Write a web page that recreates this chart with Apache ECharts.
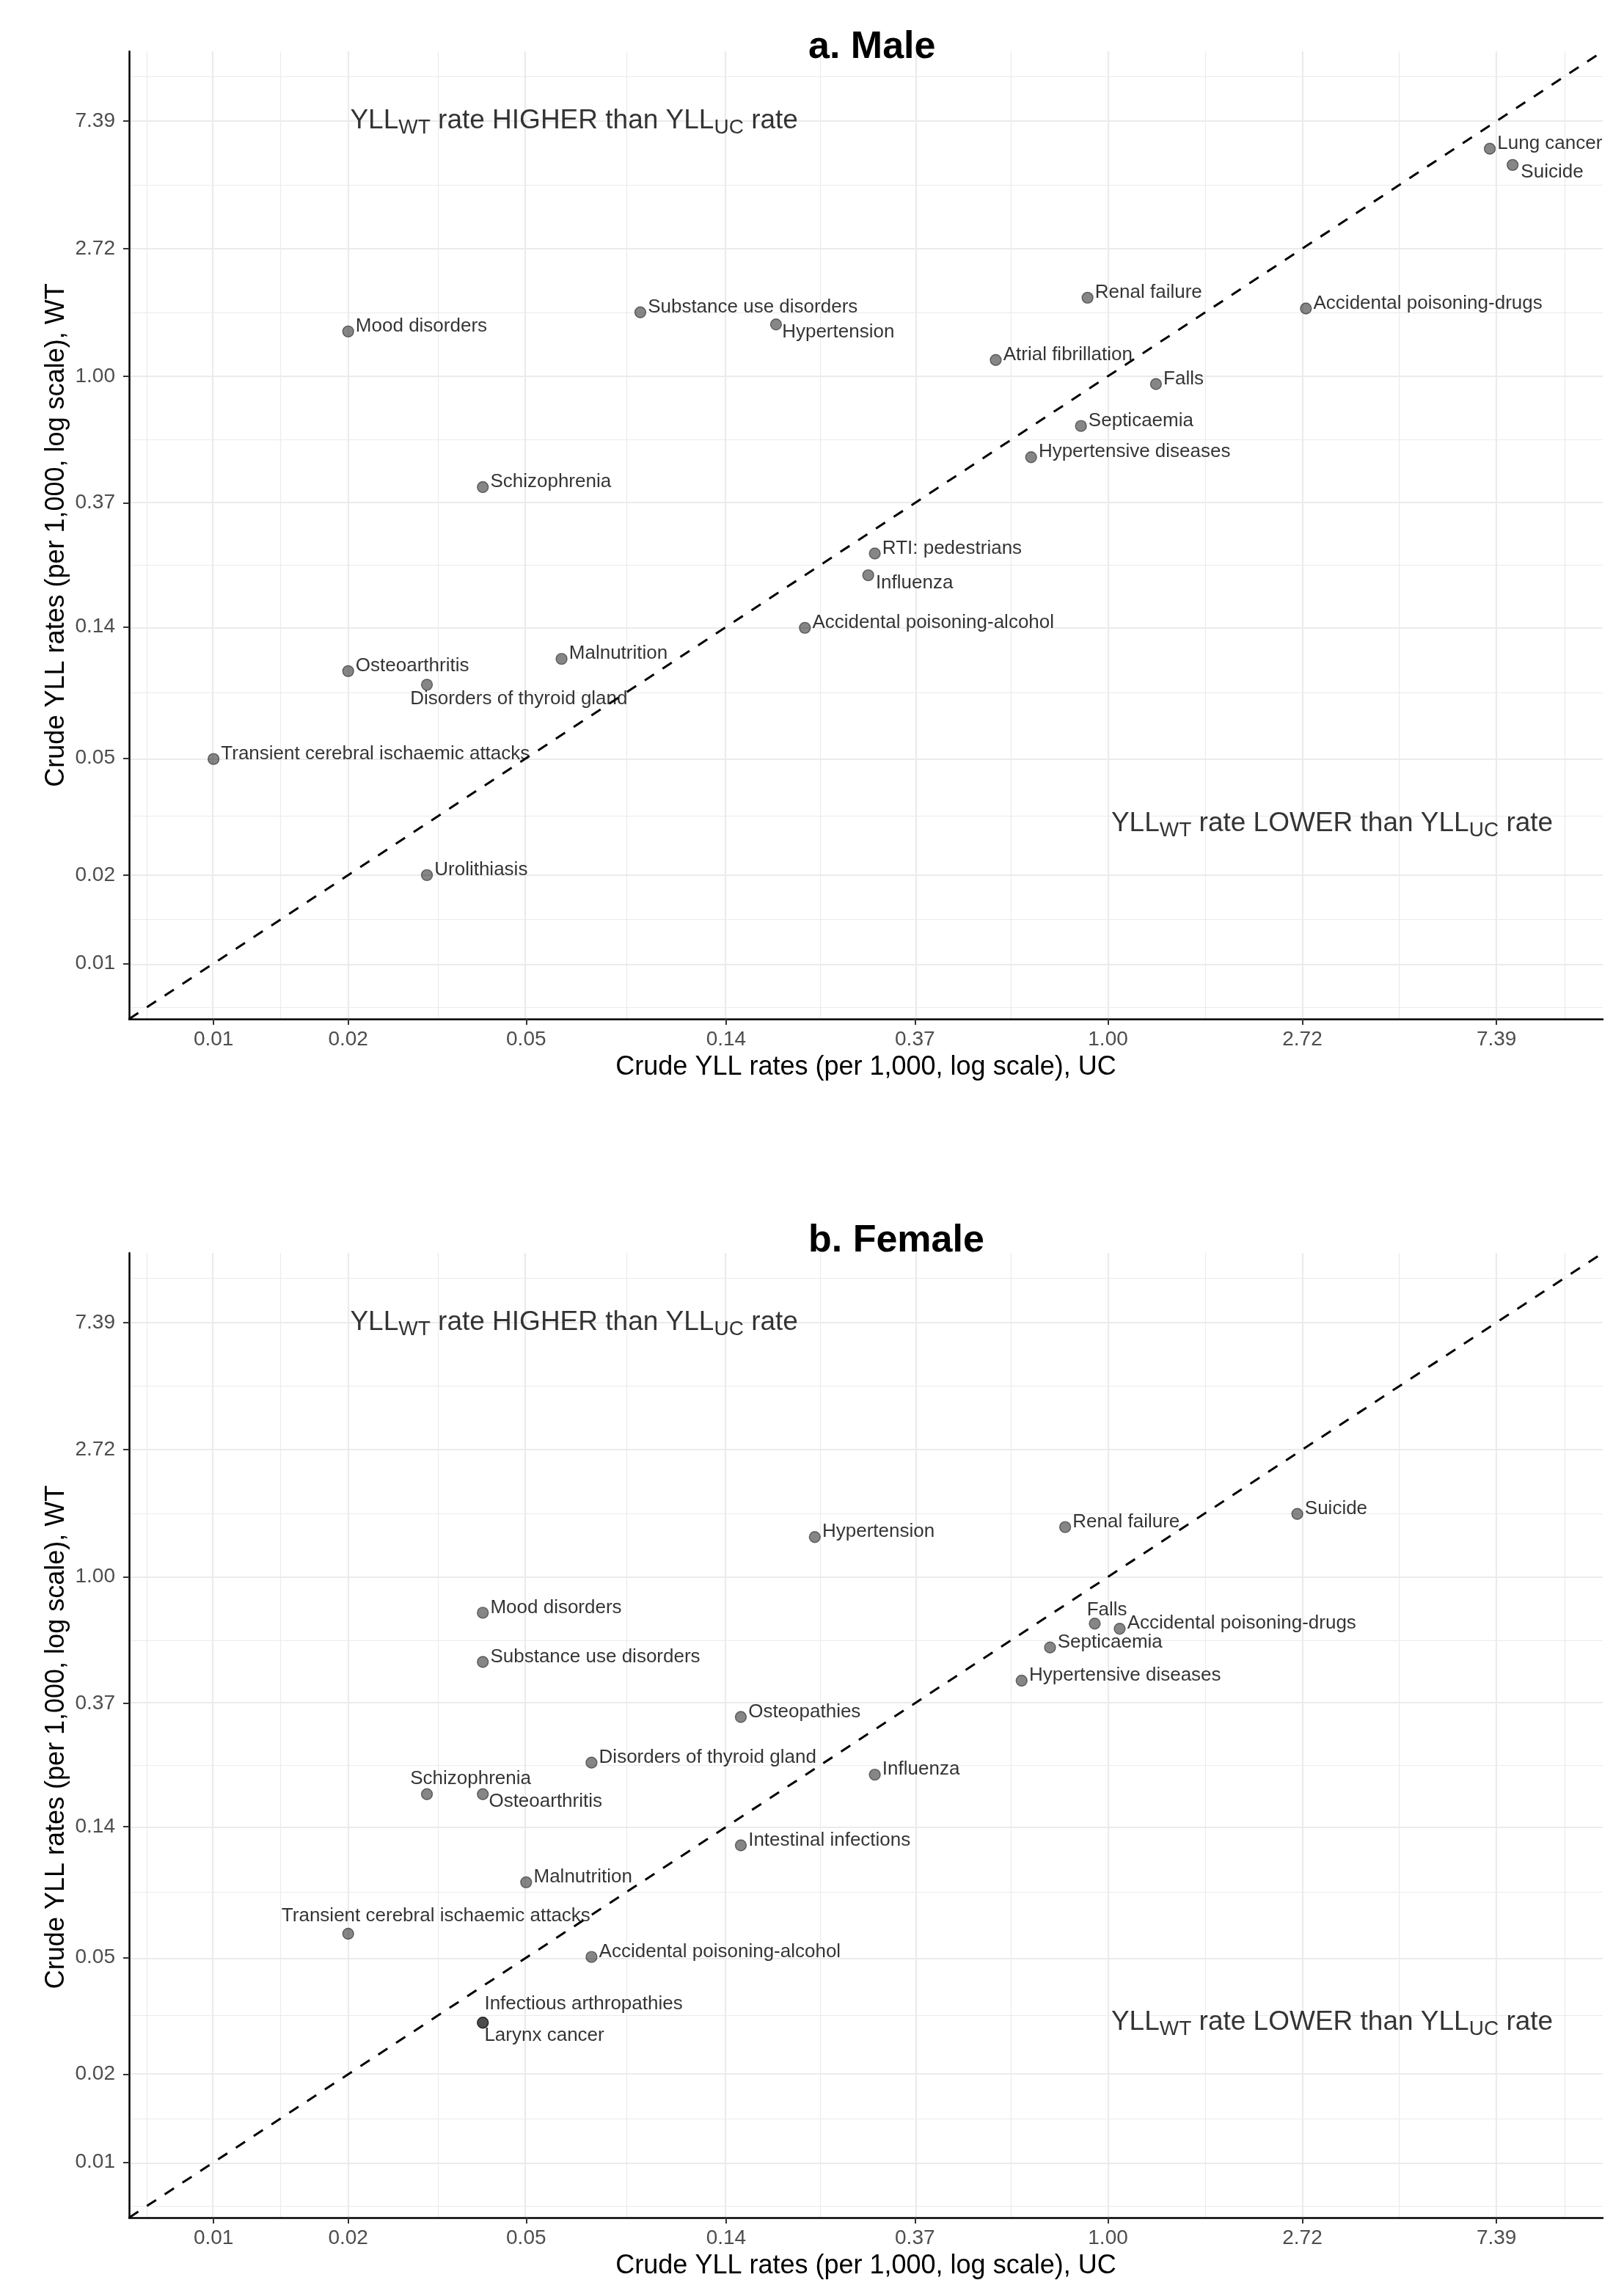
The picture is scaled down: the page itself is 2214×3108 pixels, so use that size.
<!DOCTYPE html>
<html><head><meta charset="utf-8">
<script src="https://cdn.jsdelivr.net/npm/echarts@6/dist/echarts.min.js"></script>
<style>html,body{margin:0;padding:0;background:#fff}#c{width:2214px;height:3108px}</style>
</head><body><div id="c"></div>
<script>
// ---------- data ----------
const tickValues = [0.01, 0.02, 0.05, 0.14, 0.37, 1.00, 2.72, 7.39];
const tickLabels = ['0.01', '0.02', '0.05', '0.14', '0.37', '1.00', '2.72', '7.39'];
const axisRange = [0.006474, 12.77];

const maleCauses = ['Lung cancer', 'Suicide', 'Renal failure', 'Accidental poisoning-drugs', 'Substance use disorders',
  'Hypertension', 'Mood disorders', 'Atrial fibrillation', 'Falls', 'Septicaemia', 'Hypertensive diseases',
  'Schizophrenia', 'RTI: pedestrians', 'Influenza', 'Accidental poisoning-alcohol', 'Malnutrition',
  'Osteoarthritis', 'Disorders of thyroid gland', 'Transient cerebral ischaemic attacks', 'Urolithiasis'];
const maleUC = [7.14, 8.03, 0.90, 2.77, 0.090, 0.181, 0.020, 0.561, 1.28, 0.87, 0.673,
  0.040, 0.301, 0.291, 0.210, 0.060, 0.020, 0.030, 0.010, 0.030];
const maleWT = [5.95, 5.24, 1.85, 1.70, 1.65, 1.50, 1.42, 1.135, 0.94, 0.677, 0.53,
  0.419, 0.249, 0.210, 0.139, 0.109, 0.099, 0.089, 0.0497, 0.020];

const femaleCauses = ['Hypertension', 'Renal failure', 'Suicide', 'Mood disorders', 'Falls', 'Accidental poisoning-drugs',
  'Septicaemia', 'Substance use disorders', 'Hypertensive diseases', 'Osteopathies', 'Disorders of thyroid gland',
  'Influenza', 'Schizophrenia', 'Osteoarthritis', 'Intestinal infections', 'Malnutrition',
  'Transient cerebral ischaemic attacks', 'Accidental poisoning-alcohol', 'Infectious arthropathies', 'Larynx cancer'];
const femaleUC = [0.221, 0.802, 2.65, 0.040, 0.934, 1.062, 0.742, 0.040, 0.641, 0.151, 0.070,
  0.301, 0.030, 0.040, 0.151, 0.050, 0.020, 0.070, 0.040, 0.040];
const femaleWT = [1.367, 1.479, 1.64, 0.754, 0.692, 0.665, 0.574, 0.512, 0.442, 0.332, 0.232,
  0.211, 0.181, 0.181, 0.121, 0.0905, 0.0604, 0.0503, 0.030, 0.030];

const annotationWords = ['HIGHER', 'LOWER'];
const annotationUC = [0.064, 3.17];
const annotationWT = [7.39, 0.03];

const panelTitles = ['a. Male', 'b. Female'];

// ---------- layout / style (not data) ----------
const FONT = '"Liberation Sans", Arial, Helvetica, sans-serif';
const DEFAULT_LABEL_SHIFT = [0, -7];
const maleLabelOffsets = {
  'Hypertension': [-2, 11], 'Suicide': [1, 10], 'Influenza': [0, 11], 'Disorders of thyroid gland': [-33, 19]
};
const femaleLabelOffsets = {
  'Falls': [-21, -18], 'Schizophrenia': [-33, -21], 'Osteoarthritis': [-2, 10],
  'Transient cerebral ischaemic attacks': [-101, -24], 'Infectious arthropathies': [-8, -25], 'Larynx cancer': [-8, 18]
};
const grids = [
  { left: 176, top: 70, width: 2009, height: 1319 },
  { left: 176, top: 1708, width: 2009, height: 1320 }
];

const LMIN = Math.log(axisRange[0]);
const LMAX = Math.log(axisRange[1]);
const lnTicks = tickValues.map(v => Math.log(v));
// ggplot-style minor breaks: midpoints between major breaks, extended by first spacing
const step0 = lnTicks[1] - lnTicks[0];
const ext = [lnTicks[0] - step0].concat(lnTicks, [lnTicks[lnTicks.length - 1] + step0]);
const lnMinor = [];
for (let i = 0; i < ext.length - 1; i++) {
  const m = (ext[i] + ext[i + 1]) / 2;
  if (m > LMIN && m < LMAX) lnMinor.push(m);
}
function fmt(v) {
  for (let i = 0; i < lnTicks.length; i++) if (Math.abs(lnTicks[i] - v) < 1e-6) return tickLabels[i];
  return '';
}

function gridLines() {
  const major = { color: '#ebebeb', width: 2.2, type: 'solid' };
  const minor = { color: '#ebebeb', width: 1.2, type: 'solid' };
  const d = [];
  lnMinor.forEach(v => { d.push({ xAxis: v, lineStyle: minor }); d.push({ yAxis: v, lineStyle: minor }); });
  lnTicks.forEach(v => { d.push({ xAxis: v, lineStyle: major }); d.push({ yAxis: v, lineStyle: major }); });
  return d;
}

function axisCommon(gi) {
  return {
    gridIndex: gi, type: 'value', min: LMIN, max: LMAX, z: 6,
    axisLine: { show: true, onZero: false, lineStyle: { color: '#000', width: 2.5 } },
    axisTick: { show: true, customValues: lnTicks, length: 8, lineStyle: { color: '#333', width: 2 } },
    splitLine: { show: false }
  };
}

const xAxes = [], yAxes = [], series = [], graphics = [];
const panels = [
  { causes: maleCauses, uc: maleUC, wt: maleWT, offsets: maleLabelOffsets },
  { causes: femaleCauses, uc: femaleUC, wt: femaleWT, offsets: femaleLabelOffsets }
];

panels.forEach((p, gi) => {
  xAxes.push(Object.assign(axisCommon(gi), {
    axisLabel: { show: true, customValues: lnTicks, formatter: fmt, margin: 14, fontSize: 28, color: '#4d4d4d', fontFamily: FONT },
    name: 'Crude YLL rates (per 1,000, log scale), UC', nameLocation: 'middle', nameGap: 66,
    nameTextStyle: { fontSize: 36, color: '#000', fontFamily: FONT, verticalAlign: 'middle' }
  }));
  yAxes.push(Object.assign(axisCommon(gi), {
    axisLabel: { show: true, customValues: lnTicks, formatter: fmt, margin: 19, fontSize: 28, color: '#4d4d4d', fontFamily: FONT }
  }));

  // diagonal y = x reference line (also hosts the panel grid lines)
  series.push({
    type: 'line', xAxisIndex: gi, yAxisIndex: gi, silent: true, animation: false, z: 3,
    data: [[LMIN, LMIN], [LMAX, LMAX]], symbol: 'none',
    lineStyle: { color: '#000', width: 3, type: [15, 14] },
    markLine: {
      silent: true, z: 1, animation: false, symbol: ['none', 'none'],
      label: { show: false }, emphasis: { disabled: true },
      data: gridLines()
    }
  });

  // points
  const shifts = p.causes.map(n => p.offsets[n] || DEFAULT_LABEL_SHIFT);
  series.push({
    type: 'scatter', xAxisIndex: gi, yAxisIndex: gi, z: 5, animation: false,
    symbolSize: 15,
    itemStyle: { color: 'rgba(25,25,25,0.66)', borderColor: 'rgba(0,0,0,0.62)', borderWidth: 1.4 },
    label: { show: true, position: 'right', distance: 2, formatter: '{b}', fontSize: 26, color: '#000', fontFamily: FONT },
    emphasis: { disabled: true },
    labelLayout: params => ({ dx: shifts[params.dataIndex][0], dy: shifts[params.dataIndex][1], hideOverlap: false }),
    data: p.causes.map((name, i) => ({ name: name, value: [Math.log(p.uc[i]), Math.log(p.wt[i])] }))
  });

  // region annotations
  series.push({
    type: 'scatter', xAxisIndex: gi, yAxisIndex: gi, z: 4, animation: false, silent: true,
    symbolSize: 1, itemStyle: { color: 'rgba(0,0,0,0)' },
    label: {
      show: true, position: 'inside', color: '#000', textBorderWidth: 0,
      formatter: p => '{n|YLL}{s|WT}{n| rate ' + p.name + ' than YLL}{s|UC}{n| rate}',
      rich: {
        n: { fontSize: 37, lineHeight: 37, verticalAlign: 'top', fontFamily: FONT, color: '#000', textBorderWidth: 0 },
        s: { fontSize: 28, lineHeight: 28, padding: [14, 0, 0, 0], verticalAlign: 'top', fontFamily: FONT, color: '#000', textBorderWidth: 0 }
      }
    },
    data: annotationWords.map((w, i) => ({ name: w, value: [Math.log(annotationUC[i]), Math.log(annotationWT[i])] }))
  });

  const g = grids[gi];
  graphics.push({
    type: 'text', x: 1102, y: gi === 0 ? 64.5 : 1692, z: 10,
    style: { text: panelTitles[gi], font: 'bold 52px ' + FONT, fill: '#000', align: 'left', verticalAlign: 'middle' }
  });
  graphics.push({
    type: 'text', x: 77, y: g.top + g.height / 2, rotation: Math.PI / 2, z: 10,
    style: { text: 'Crude YLL rates (per 1,000, log scale), WT', font: '36px ' + FONT, fill: '#000', align: 'center', verticalAlign: 'middle' }
  });
});

const chart = echarts.init(document.getElementById('c'), null, { renderer: 'canvas' });
chart.setOption({
  backgroundColor: '#fff',
  animation: false,
  grid: grids.map(g => Object.assign({ containLabel: false }, g)),
  xAxis: xAxes,
  yAxis: yAxes,
  series: series,
  graphic: graphics
});
</script>
</body></html>
